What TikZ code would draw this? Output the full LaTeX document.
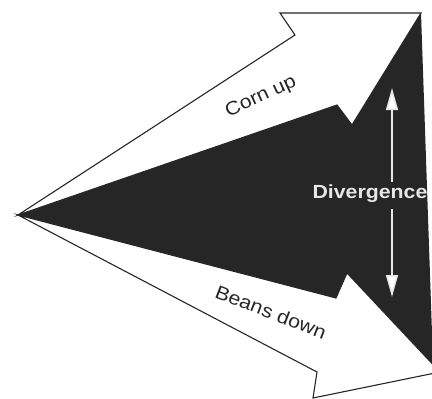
\documentclass[tikz,border=0pt]{standalone}
\usepackage{fontspec}
\setmainfont{Liberation Sans}
\newfontfamily\widesans[FakeStretch=1.12]{Liberation Sans}
\usetikzlibrary{arrows.meta}
\definecolor{ink}{HTML}{262626}
\definecolor{pale}{HTML}{E6E6E6}
\tikzset{
  arrowbody/.style={fill=white, draw=ink, line width=1.1pt, line join=miter},
  wedge/.style={fill=ink},
  lbl/.style={font=\widesans\fontsize{19}{19}\selectfont, text=ink, inner sep=0pt},
  divlbl/.style={font=\widesans\bfseries\fontsize{19}{19}\selectfont, text=pale, inner sep=0pt},
  divline/.style={draw=pale, line width=1.6pt, -{Triangle[length=22pt,width=12pt,fill=white]}},
}
\begin{document}
\begin{tikzpicture}[x=1pt,y=-1pt]
\useasboundingbox (0,0) rectangle (432,399);
\clip (0,0) rectangle (432,399);
\fill[white] (0,0) rectangle (432,399);
% common tail
\coordinate (P0) at (18,215);
% upper arrow (corn)
\coordinate (A1) at (295,35);
\coordinate (A2) at (280,13);
\coordinate (A3) at (421,13);
\coordinate (A4) at (352,125);
\coordinate (A5) at (337,105);
% lower arrow (beans)
\coordinate (B1) at (317,372);
\coordinate (B2) at (313,398);
\coordinate (B3) at (440,372);
\coordinate (B4) at (347,273);
\coordinate (B5) at (336,298);
% right edge of dark wedge
\coordinate (R1) at (433,362);
% dark region
\fill[wedge] (P0) -- (A5) -- (A4) -- (A3) -- (R1) -- (B3) -- (B4) -- (B5) -- cycle;
% arrows
\draw[arrowbody] (P0) -- (A1) -- (A2) -- (A3) -- (A4) -- (A5) -- cycle;
\draw[arrowbody] (P0) -- (B5) -- (B4) -- (B3) -- (B2) -- (B1) -- cycle;
% labels
\node[lbl, rotate=25] (corn) at (261,97) {Corn up};
\node[lbl, rotate=-21] (beans) at (271,312) {Beans down};
\node[divlbl] (div) at (370,194) {Divergence};
% divergence arrow
\coordinate (dtopS) at (392,182);
\coordinate (dtop) at (392,88);
\coordinate (dbotS) at (392,209);
\coordinate (dbot) at (392,297);
\draw[divline] (dtopS) -- (dtop);
\draw[divline] (dbotS) -- (dbot);
\end{tikzpicture}
\end{document}
